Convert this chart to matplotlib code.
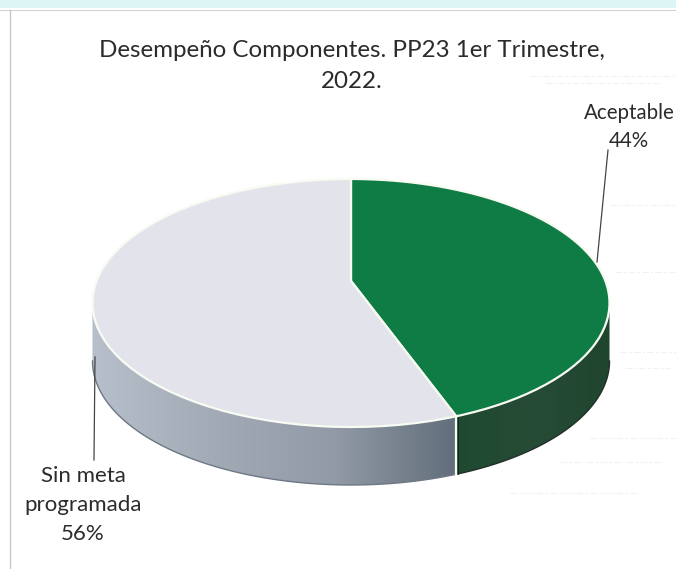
import numpy as np
import matplotlib
matplotlib.use("Agg")
import matplotlib.pyplot as plt
from matplotlib.colors import LinearSegmentedColormap
from matplotlib.patches import Polygon
from matplotlib.path import Path
from matplotlib.transforms import Affine2D, Transform

# datos
labels = ["Aceptable\n44%", "Sin meta\nprogramada\n56%"]
values = [44.4, 55.6]
title = "Desempeño Componentes. PP23 1er Trimestre,\n2022."

top_colors = ["#0f7c45", "#e3e4eb"]
wall_colors = [["#1f4a31", "#264b36", "#20452f"], ["#b7bfcb", "#a2aab6", "#919aa6", "#626e7b"]]

# geometria del disco en pixeles
CX, FRONT_Y = 351, 427
A, B, C, S = 146, 146, 0.1774, 254.4
DEPTH = 58

# restos del escaneo (y, x inicial, x final)
scan_marks = [(76, 530, 676), (83, 545, 660), (205, 610, 676), (272, 615, 676),
              (352, 620, 676), (368, 625, 670), (438, 590, 676), (462, 560, 660),
              (493, 510, 640)]


def project(x, y):
    w = 1 + C * y
    return CX + S * x / w, FRONT_Y - (A * y + B) / w


class Perspective(Transform):
    input_dims = 2
    output_dims = 2

    def transform_non_affine(self, values):
        values = np.asarray(values)
        return np.column_stack(project(values[:, 0], values[:, 1]))

    def transform_path_non_affine(self, path):
        poly = path.to_polygons(Affine2D().scale(500), closed_only=False)[0] / 500
        return Path(self.transform_non_affine(poly))


fig = plt.figure(figsize=(6.76, 5.69), dpi=100)
ax = fig.add_axes([0, 0, 1, 1])
plt.rcParams["font.family"] = ["Lato", "DejaVu Sans"]

wedges, _ = ax.pie(values, colors=top_colors, startangle=90, counterclock=False,
                   wedgeprops={"edgecolor": "#f8fbf2", "linewidth": 1.6})
persp = Perspective()
for w in wedges:
    w.set_transform(persp + ax.transData)
    w.set_zorder(3)

# pared lateral, solo la parte visible de cada porcion
sil = np.degrees(np.arcsin(C))
for w, cols in zip(wedges, wall_colors):
    t1 = (w.theta1 + 360) % 360
    t2 = (w.theta2 + 360) % 360
    if t2 < t1:
        t2 += 360
    b = min(t2, 360 - sil)
    if t1 > 180:
        a = max(t1, 180 + sil)
    else:
        a = 180 + sil
    th = np.radians(np.linspace(a, b, 80))
    px, py = project(np.cos(th), np.sin(th))
    verts = np.vstack([np.column_stack([px, py]),
                       np.column_stack([px[::-1], py[::-1] + DEPTH])])
    patch = Polygon(verts, closed=True, facecolor="none", edgecolor="none", zorder=2)
    ax.add_patch(patch)
    cmap = LinearSegmentedColormap.from_list("wall", cols)
    im = ax.imshow(np.linspace(0, 1, 256)[None, :], cmap=cmap, aspect="auto", zorder=1,
                   extent=(px.min(), px.max(), py.max() + DEPTH, py.min()))
    im.set_clip_path(patch)
    ax.plot(px, py + DEPTH, color="#22302a" if cols is wall_colors[0] else "#6d7884",
            lw=1.0, zorder=2)

# divisor frontal de las paredes
th = np.radians(wedges[0].theta1)
fx, fy = project(np.cos(th), np.sin(th))
ax.plot([fx, fx], [fy, fy + DEPTH], color="#f8fbf2", lw=1.6, zorder=2.5)
ax.plot([fx + 1.6, fx + 1.6], [fy + 1, fy + DEPTH], color="#15251b", lw=0.7, zorder=2.5)

# lineas guia
ax.plot([608, 597], [150, 262], color="#444444", lw=0.9, zorder=4)
ax.plot([95, 94], [357, 460], color="#444444", lw=0.9, zorder=4)

# marco escaneado
ax.axhspan(0, 8, color="#dcf6f6", zorder=0, lw=0)
ax.plot([0, 676], [10, 10], color="#d4d4d4", lw=0.8, zorder=0)
ax.plot([10, 10], [10, 569], color="#c4c4c4", lw=0.9, zorder=0)
for y, x0, x1 in scan_marks:
    ax.plot([x0, x1], [y, y], color="#f1f1f1", lw=0.8, ls=(0, (6, 2, 2, 2)), zorder=0)

text_kw = {"color": "#2b2b2b", "ha": "center", "va": "center", "linespacing": 1.55}
ax.text(352, 66, title, fontsize=17.4, **text_kw)
ax.text(629, 127, labels[0], fontsize=14.8, **text_kw)
ax.text(83, 505, labels[1], fontsize=16, **text_kw)

ax.set_aspect("auto")
ax.set_xlim(0, 676)
ax.set_ylim(569, 0)
ax.axis("off")

plt.savefig("out.png", dpi=100)
